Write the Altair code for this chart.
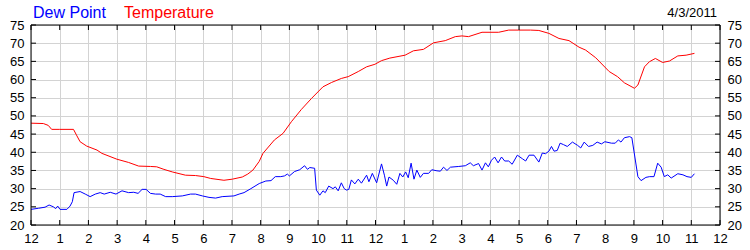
import altair as alt
import pandas as pd

# ---- data ----
temp_hours = [0.0, 0.43, 0.6, 0.72, 1.0, 1.48, 1.6, 1.71, 1.94, 2.3, 2.47, 2.99, 3.4, 3.75,
              4.16, 4.38, 4.63, 4.92, 5.38, 5.73, 6.02, 6.26, 6.72, 7.01, 7.36, 7.55, 7.73,
              7.95, 8.08, 8.48, 8.78, 9.07, 9.42, 9.77, 10.17, 10.47, 10.81, 11.05, 11.4,
              11.69, 11.98, 12.21, 12.5, 13.03, 13.32, 13.67, 14.02, 14.43, 14.78, 15.01,
              15.24, 15.71, 16.29, 16.64, 16.99, 17.4, 17.69, 18.04, 18.39, 18.74, 19.09,
              19.32, 19.67, 20.14, 20.43, 20.67, 21.02, 21.14, 21.37, 21.54, 21.75, 22.0,
              22.24, 22.53, 22.82, 23.11]
temp_values = [48.0, 47.9, 47.4, 46.3, 46.3, 46.3, 44.5, 42.9, 41.7, 40.6, 39.7, 38.1, 37.2, 36.2,
               36.1, 36.0, 35.3, 34.6, 33.7, 33.6, 33.3, 32.8, 32.3, 32.6, 33.2, 34.0, 35.1,
               37.5, 39.7, 43.4, 45.2, 48.4, 51.8, 54.8, 58.0, 59.2, 60.3, 60.8, 62.2,
               63.5, 64.2, 65.2, 65.9, 66.7, 67.9, 68.3, 70.1, 70.7, 71.8, 72.0,
               71.8, 73.0, 73.0, 73.6, 73.6, 73.6, 73.5, 72.7, 71.3, 70.7, 68.9,
               68.1, 66.0, 62.2, 60.8, 59.1, 57.6, 58.5, 63.5, 64.9, 65.8, 64.7,
               65.1, 66.5, 66.7, 67.2]

dew_hours = [0.0, 0.26, 0.49, 0.63, 0.78, 0.86, 0.93, 1.01, 1.25, 1.36, 1.44, 1.5, 1.71, 1.89,
             2.06, 2.24, 2.41, 2.55, 2.76, 2.96, 3.17, 3.4, 3.58, 3.73, 3.87, 4.01, 4.16,
             4.34, 4.5, 4.69, 4.92, 5.27, 5.56, 5.73, 5.97, 6.2, 6.43, 6.66, 7.07, 7.25,
             7.42, 7.66, 7.95, 8.18, 8.36, 8.51, 8.7, 8.83, 8.93, 9.0, 9.18, 9.36, 9.53,
             9.63, 9.71, 9.88, 9.94, 10.06, 10.17, 10.25, 10.37, 10.52, 10.6, 10.7, 10.81,
             10.91, 10.99, 11.07, 11.16, 11.28, 11.4, 11.51, 11.69, 11.77, 11.89, 12.04,
             12.21, 12.31, 12.39, 12.47, 12.62, 12.74, 12.85, 12.95, 13.05, 13.14, 13.24,
             13.34, 13.44, 13.56, 13.67, 13.85, 13.96, 14.14, 14.26, 14.37, 14.49, 14.61,
             14.9, 15.13, 15.3, 15.41, 15.59, 15.71, 15.83, 15.93, 16.04, 16.15, 16.27,
             16.39, 16.5, 16.64, 16.76, 16.94, 17.12, 17.23, 17.35, 17.52, 17.69, 17.81,
             17.92, 18.04, 18.13, 18.22, 18.33, 18.43, 18.55, 18.68, 18.86, 19.04, 19.15,
             19.27, 19.42, 19.57, 19.72, 19.87, 19.99, 20.22, 20.35, 20.46, 20.55, 20.67,
             20.85, 20.93, 21.14, 21.25, 21.42, 21.55, 21.7, 21.83, 21.95, 22.06, 22.18,
             22.3, 22.53, 22.71, 22.85, 23.0, 23.11]
dew_values = [24.3, 24.6, 24.9, 25.5, 25.0, 24.5, 25.2, 24.3, 24.3, 25.2, 26.4, 28.9, 29.2, 28.5,
              27.8, 28.5, 28.9, 28.5, 29.0, 28.5, 29.4, 28.9, 29.0, 28.7, 29.8, 29.8, 28.7,
              28.5, 28.5, 27.8, 27.8, 28.0, 28.5, 28.5, 28.0, 27.6, 27.4, 27.8, 28.0, 28.5,
              28.9, 30.0, 31.4, 32.1, 32.2, 33.3, 33.3, 33.5, 34.0, 33.5, 34.7, 35.2, 36.3,
              35.3, 35.8, 35.6, 29.6, 28.2, 29.4, 28.9, 30.7, 30.0, 30.5, 29.4, 31.6,
              30.0, 29.6, 29.8, 32.4, 31.3, 32.6, 31.5, 33.7, 31.9, 34.2, 31.6,
              36.8, 33.7, 30.7, 33.2, 32.3, 31.2, 34.2, 33.2, 34.6, 33.0, 37.0,
              32.6, 35.1, 33.1, 34.2, 34.2, 35.2, 34.9, 34.8, 35.9, 35.0, 35.9,
              36.1, 36.3, 37.1, 36.3, 36.9, 35.1, 37.1, 36.0, 37.8, 38.7, 37.1,
              38.7, 37.6, 37.6, 36.7, 39.2, 38.2, 37.6, 39.2, 39.2, 37.3, 39.8,
              39.6, 40.3, 41.6, 40.3, 40.5, 42.5, 42.1, 41.6, 42.8, 41.9, 41.2,
              42.8, 41.6, 41.9, 42.8, 42.3, 42.9, 42.5, 42.5, 43.4, 42.8, 44.0,
              44.3, 44.0, 33.3, 32.2, 33.1, 33.3, 33.3, 37.0, 35.9, 33.3, 33.8,
              32.9, 34.1, 33.8, 33.3, 33.1, 34.1]

series_names = ["Dew Point", "Temperature"]
series_colors = ["#0000ff", "#ff0000"]
date_label = ["4/3/2011"]
hour_ticks = list(range(0, 25))
y_ticks = list(range(20, 80, 5))

# ---- tables ----
df = pd.concat([
    pd.DataFrame({"hour": dew_hours, "value": dew_values, "series": series_names[0]}),
    pd.DataFrame({"hour": temp_hours, "value": temp_values, "series": series_names[1]}),
], ignore_index=True)
hours_df = pd.DataFrame({"hour": hour_ticks})
yt_df = pd.DataFrame({"value": y_ticks})
name_df = pd.DataFrame({"label": series_names, "color": series_colors})
date_df = pd.DataFrame({"label": date_label})

W, H = 689, 200
FONT = "Liberation Sans"

xscale = alt.Scale(domain=[0, 24], nice=False, zero=False)
yscale = alt.Scale(domain=[20, 75], nice=False, zero=False)

x_axis = alt.Axis(values=hour_ticks, grid=True, ticks=False, domain=False, title=None,
                  labelPadding=7, labelFlush=False, labelOverlap=False,
                  labelExpr="datum.value % 12 == 0 ? '12' : '' + (datum.value % 12)")
y_axis_left = alt.Axis(values=y_ticks, grid=True, ticks=False, domain=False, title=None,
                       labelPadding=7, orient="left", labelFlush=False, labelOverlap=False)
y_axis_right = alt.Axis(values=y_ticks, grid=False, ticks=False, domain=False, title=None,
                        labelPadding=7, orient="right", labelFlush=False, labelOverlap=False)

lines = alt.Chart(df).mark_line(strokeWidth=1).encode(
    x=alt.X("hour:Q", scale=xscale, axis=x_axis),
    y=alt.Y("value:Q", scale=yscale, axis=y_axis_left),
    color=alt.Color("series:N", scale=alt.Scale(domain=series_names, range=series_colors), legend=None),
)

top_ticks = alt.Chart(hours_df).mark_rule(color="black", strokeWidth=1).encode(
    x=alt.X("hour:Q", scale=xscale, axis=x_axis), y=alt.value(0), y2=alt.value(5))
bot_ticks = alt.Chart(hours_df).mark_rule(color="black", strokeWidth=1).encode(
    x=alt.X("hour:Q", scale=xscale, axis=x_axis), y=alt.value(H - 5), y2=alt.value(H))
left_ticks = alt.Chart(yt_df).mark_rule(color="black", strokeWidth=1).encode(
    y=alt.Y("value:Q", scale=yscale, axis=y_axis_left), x=alt.value(0), x2=alt.value(5))

left_group = alt.layer(lines, top_ticks, bot_ticks, left_ticks)

right_ticks = alt.Chart(yt_df).mark_rule(color="black", strokeWidth=1).encode(
    y=alt.Y("value:Q", scale=yscale, axis=y_axis_right), x=alt.value(W - 5), x2=alt.value(W))

frame = alt.Chart(date_df).mark_rect(fill=None, stroke="black", strokeWidth=1).encode(
    x=alt.value(0), x2=alt.value(W), y=alt.value(0), y2=alt.value(H))

name1 = alt.Chart(name_df.iloc[[0]]).mark_text(
    align="left", baseline="alphabetic", font=FONT, fontSize=16, color=series_colors[0]
).encode(text="label:N", x=alt.value(2), y=alt.value(-7))
name2 = alt.Chart(name_df.iloc[[1]]).mark_text(
    align="left", baseline="alphabetic", font=FONT, fontSize=16, color=series_colors[1]
).encode(text="label:N", x=alt.value(93), y=alt.value(-7))
date_text = alt.Chart(date_df).mark_text(
    align="right", baseline="alphabetic", font=FONT, fontSize=13, color="black"
).encode(text="label:N", x=alt.value(686), y=alt.value(-8))

chart = alt.layer(left_group, right_ticks, frame, name1, name2, date_text).resolve_scale(
    y="independent"
).properties(
    width=W, height=H,
    autosize=alt.AutoSizeParams(type="none"),
    padding={"left": 31, "top": 25, "right": 30, "bottom": 25},
    background="white",
).configure_view(stroke=None).configure_axis(
    labelFont=FONT, labelFontSize=13, labelColor="black", gridColor="#d3d3d3", gridWidth=1
)

chart.save("out.html", embed_options={"renderer": "svg", "actions": False})
